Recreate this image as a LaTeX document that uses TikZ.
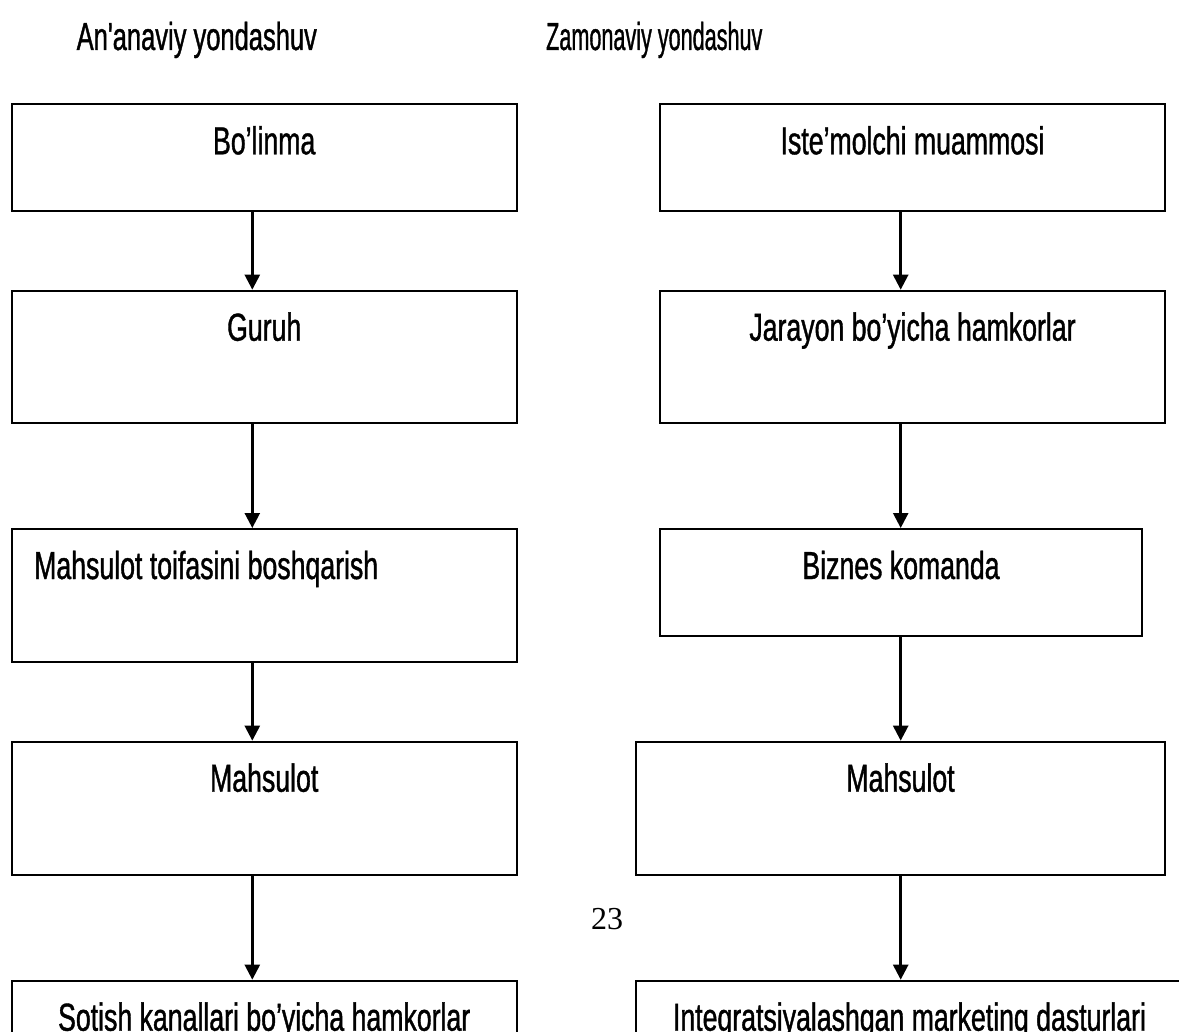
\documentclass[tikz,border=0pt]{standalone}
\usepackage{fontspec}
\newfontfamily\agency{Liberation Sans}[FakeStretch=0.684, FakeBold=1, Ligatures=TeXOff]
\newfontfamily\serifnum{Liberation Serif}
\usetikzlibrary{arrows.meta}
\begin{document}
\begin{tikzpicture}[x=1pt,y=-1pt,
  box/.style={draw, line width=2pt, rectangle, inner sep=0pt},
  lbl/.style={inner sep=0pt, anchor=base, font=\agency\fontsize{39pt}{47pt}\selectfont},
  flow/.style={line width=2.5pt, -{Triangle[width=15pt,length=15pt]}}]
\useasboundingbox (0,0) rectangle (1179,1032);
\clip (0,0) rectangle (1179,1032);

% column headings
\node[lbl, anchor=base west] (t1) at (76.5,50) {\scalebox{0.956}[1]{An'anaviy yondashuv}};
\node[lbl, anchor=base west] (t2) at (546,50) {\scalebox{0.81}[1]{Zamonaviy yondashuv}};

% traditional approach (left column)
\node[box, minimum width=505pt, minimum height=106.4pt] (l1) at (264.2,157.5) {};
\node[box, minimum width=505pt, minimum height=132.6pt] (l2) at (264.2,357) {};
\node[box, minimum width=505pt, minimum height=133.3pt] (l3) at (264.2,595.65) {};
\node[box, minimum width=505pt, minimum height=133.3pt] (l4) at (264.2,808.35) {};
\node[box, minimum width=505pt, minimum height=140pt] (l5) at (264.2,1050.7) {};

\node[lbl] (l1t) at (264.2,154.3) {Bo’linma};
\node[lbl] (l2t) at (264.2,340.7) {Guruh};
\node[lbl, anchor=base west] (l3t) at (34,579) {Mahsulot toifasini boshqarish};
\node[lbl] (l4t) at (264.2,791.7) {Mahsulot};
\node[lbl] (l5t) at (264.2,1030.7) {Sotish kanallari bo’yicha hamkorlar};

% modern approach (right column)
\node[box, minimum width=505pt, minimum height=106.4pt] (r1) at (912.5,157.5) {};
\node[box, minimum width=505pt, minimum height=132.6pt] (r2) at (912.5,357) {};
\node[box, minimum width=482pt, minimum height=106.7pt] (r3) at (901,582.35) {};
\node[box, minimum width=529pt, minimum height=133.3pt] (r4) at (900.5,808.35) {};
\node[box, minimum width=547pt, minimum height=140pt] (r5) at (909.5,1050.7) {};

\node[lbl] (r1t) at (912.5,154.3) {Iste’molchi muammosi};
\node[lbl] (r2t) at (912.5,340.7) {Jarayon bo’yicha hamkorlar};
\node[lbl] (r3t) at (901,579) {Biznes komanda};
\node[lbl] (r4t) at (900.5,791.7) {Mahsulot};
\node[lbl] (r5t) at (909.5,1030.7) {Integratsiyalashgan marketing dasturlari};

% page number
\node[inner sep=0pt, font=\serifnum\fontsize{32pt}{38pt}\selectfont] (pg) at (607,919) {23};

% connectors
\coordinate (ax) at (252.3,0);
\coordinate (bx) at (900.7,0);
\draw[flow] (l1.south -| ax) -- (l2.north -| ax);
\draw[flow] (l2.south -| ax) -- (l3.north -| ax);
\draw[flow] (l3.south -| ax) -- (l4.north -| ax);
\draw[flow] (l4.south -| ax) -- (l5.north -| ax);
\draw[flow] (r1.south -| bx) -- (r2.north -| bx);
\draw[flow] (r2.south -| bx) -- (r3.north -| bx);
\draw[flow] (r3.south -| bx) -- (r4.north -| bx);
\draw[flow] (r4.south -| bx) -- (r5.north -| bx);
\end{tikzpicture}
\end{document}
